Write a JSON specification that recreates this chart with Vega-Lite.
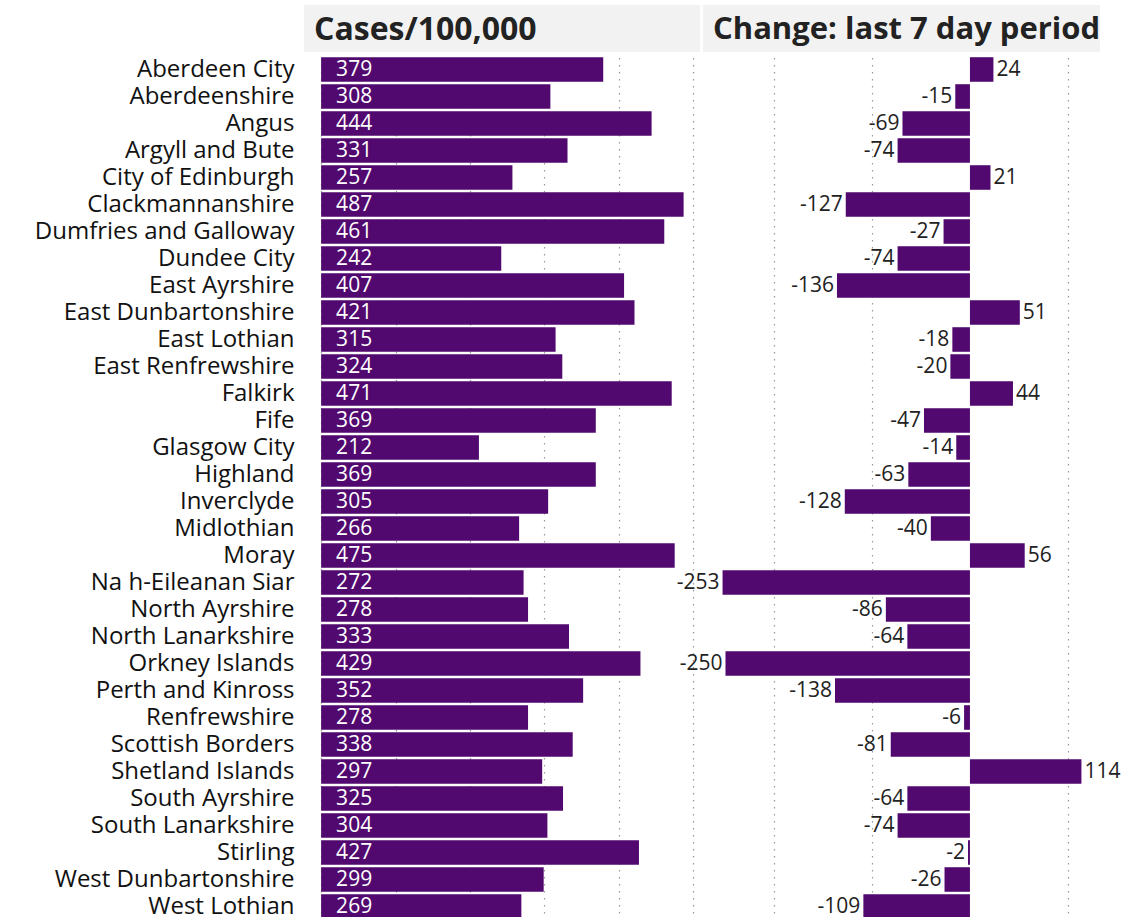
{
  "$schema": "https://vega.github.io/schema/vega-lite/v6.json",
  "padding": {"left": 34, "top": 5, "right": 0, "bottom": 0},
  "background": "white",
  "config": {"view": {"stroke": null}, "font": "Open Sans"},
  "datasets": {
    "scot": [
      {"area": "Aberdeen City", "cases": 379, "change": 24},
      {"area": "Aberdeenshire", "cases": 308, "change": -15},
      {"area": "Angus", "cases": 444, "change": -69},
      {"area": "Argyll and Bute", "cases": 331, "change": -74},
      {"area": "City of Edinburgh", "cases": 257, "change": 21},
      {"area": "Clackmannanshire", "cases": 487, "change": -127},
      {"area": "Dumfries and Galloway", "cases": 461, "change": -27},
      {"area": "Dundee City", "cases": 242, "change": -74},
      {"area": "East Ayrshire", "cases": 407, "change": -136},
      {"area": "East Dunbartonshire", "cases": 421, "change": 51},
      {"area": "East Lothian", "cases": 315, "change": -18},
      {"area": "East Renfrewshire", "cases": 324, "change": -20},
      {"area": "Falkirk", "cases": 471, "change": 44},
      {"area": "Fife", "cases": 369, "change": -47},
      {"area": "Glasgow City", "cases": 212, "change": -14},
      {"area": "Highland", "cases": 369, "change": -63},
      {"area": "Inverclyde", "cases": 305, "change": -128},
      {"area": "Midlothian", "cases": 266, "change": -40},
      {"area": "Moray", "cases": 475, "change": 56},
      {"area": "Na h-Eileanan Siar", "cases": 272, "change": -253},
      {"area": "North Ayrshire", "cases": 278, "change": -86},
      {"area": "North Lanarkshire", "cases": 333, "change": -64},
      {"area": "Orkney Islands", "cases": 429, "change": -250},
      {"area": "Perth and Kinross", "cases": 352, "change": -138},
      {"area": "Renfrewshire", "cases": 278, "change": -6},
      {"area": "Scottish Borders", "cases": 338, "change": -81},
      {"area": "Shetland Islands", "cases": 297, "change": 114},
      {"area": "South Ayrshire", "cases": 325, "change": -64},
      {"area": "South Lanarkshire", "cases": 304, "change": -74},
      {"area": "Stirling", "cases": 427, "change": -2},
      {"area": "West Dunbartonshire", "cases": 299, "change": -26},
      {"area": "West Lothian", "cases": 269, "change": -109}
    ]
  },
  "columns": 2,
  "spacing": {"row": 4, "column": 3},
  "bounds": "flush",
  "concat": [
    {
      "width": 396,
      "height": 47,
      "view": {"fill": "#f2f2f2", "stroke": null},
      "data": {"values": [{"h": "Cases/100,000"}]},
      "mark": {"type": "text", "align": "left", "baseline": "middle", "fontSize": 32, "fontWeight": "bold", "color": "#222222", "x": 10, "y": 25},
      "encoding": {"text": {"field": "h"}}
    },
    {
      "width": 397,
      "height": 47,
      "view": {"fill": "#f2f2f2", "stroke": null},
      "data": {"values": [{"h": "Change: last 7 day period"}]},
      "mark": {"type": "text", "align": "left", "baseline": "middle", "fontSize": 31, "fontWeight": "bold", "color": "#222222", "x": 10, "y": 25},
      "encoding": {"text": {"field": "h"}}
    },
    {
      "width": 396,
      "height": {"step": 27},
      "data": {"name": "scot"},
      "encoding": {
        "y": {
          "field": "area", "type": "nominal", "sort": null,
          "scale": {"paddingInner": 0.09, "paddingOuter": 0.045},
          "axis": {"title": null, "domain": false, "ticks": false, "labelFontSize": 24, "labelColor": "#111111", "labelPadding": 10, "labelLimit": 400}
        }
      },
      "layer": [
        {
          "mark": {"type": "rule", "color": "#aaaaaa", "strokeWidth": 1},
          "encoding": {"x": {"datum": 0}}
        },
        {
          "mark": {"type": "bar", "color": "#52096f"},
          "encoding": {
            "x": {
              "field": "cases", "type": "quantitative",
              "scale": {"domain": [-23, 509], "nice": false, "zero": false},
              "axis": {"grid": true, "values": [0, 100, 200, 300, 400, 500], "gridDash": [1.5, 5.5], "gridColor": "#999999", "gridWidth": 1.2, "labels": false, "ticks": false, "domain": false, "title": null}
            },
            "x2": {"datum": 0}
          }
        },
        {
          "mark": {"type": "text", "align": "left", "baseline": "middle", "dx": 15, "color": "white", "fontSize": 21},
          "encoding": {"x": {"datum": 0}, "text": {"field": "cases"}}
        }
      ]
    },
    {
      "width": 397,
      "height": {"step": 27},
      "data": {"name": "scot"},
      "encoding": {
        "y": {
          "field": "area", "type": "nominal", "sort": null,
          "scale": {"paddingInner": 0.09, "paddingOuter": 0.045},
          "axis": null
        }
      },
      "layer": [
        {
          "mark": {"type": "rule", "color": "#aaaaaa", "strokeWidth": 1},
          "encoding": {"x": {"datum": 0}}
        },
        {
          "mark": {"type": "bar", "color": "#52096f"},
          "encoding": {
            "x": {
              "field": "change", "type": "quantitative",
              "scale": {"domain": [-273, 133], "nice": false, "zero": false},
              "axis": {"grid": true, "values": [-200, -100, 100], "gridDash": [1.5, 5.5], "gridColor": "#999999", "gridWidth": 1.2, "labels": false, "ticks": false, "domain": false, "title": null}
            },
            "x2": {"datum": 0}
          }
        },
        {
          "transform": [{"filter": "datum.change >= 0"}],
          "mark": {"type": "text", "align": "left", "baseline": "middle", "dx": 3, "color": "#222222", "fontSize": 21},
          "encoding": {"x": {"field": "change", "type": "quantitative"}, "text": {"field": "change"}}
        },
        {
          "transform": [{"filter": "datum.change < 0"}],
          "mark": {"type": "text", "align": "right", "baseline": "middle", "dx": -3, "color": "#222222", "fontSize": 21},
          "encoding": {"x": {"field": "change", "type": "quantitative"}, "text": {"field": "change"}}
        }
      ]
    }
  ]
}
